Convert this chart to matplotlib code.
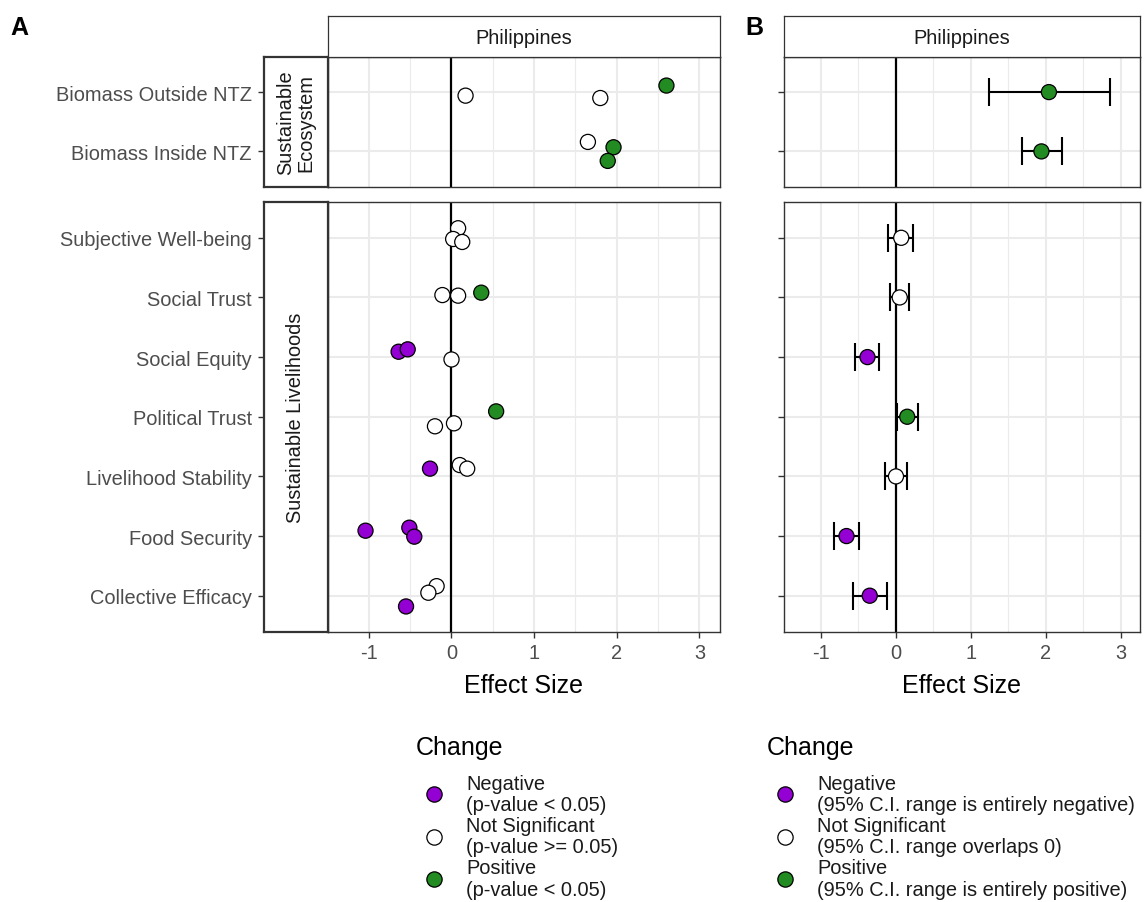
import matplotlib
matplotlib.use("Agg")
import matplotlib.pyplot as plt
from matplotlib.lines import Line2D

plt.rcParams['font.family'] = ['Liberation Sans', 'DejaVu Sans']

# ---------------- data ----------------
eco_indicators = ["Biomass Outside NTZ", "Biomass Inside NTZ"]
liv_indicators = ["Subjective Well-being", "Social Trust", "Social Equity",
                  "Political Trust", "Livelihood Stability", "Food Security",
                  "Collective Efficacy"]
group_labels = ["Sustainable\nEcosystem", "Sustainable Livelihoods"]

# Panel A: individual effect sizes (three per indicator)
a_indicator = (["Biomass Outside NTZ"] * 3 + ["Biomass Inside NTZ"] * 3 +
               ["Subjective Well-being"] * 3 + ["Social Trust"] * 3 +
               ["Social Equity"] * 3 + ["Political Trust"] * 3 +
               ["Livelihood Stability"] * 3 + ["Food Security"] * 3 +
               ["Collective Efficacy"] * 3)
a_effect = [0.17, 1.80, 2.60,
            1.65, 1.96, 1.89,
            0.08, 0.02, 0.13,
            -0.11, 0.08, 0.36,
            -0.64, -0.53, 0.00,
            0.54, -0.20, 0.03,
            -0.26, 0.10, 0.19,
            -1.04, -0.51, -0.45,
            -0.18, -0.28, -0.55]
a_jitter = [0.06, 0.10, -0.11,
            -0.16, -0.07, 0.16,
            -0.16, 0.02, 0.07,
            -0.04, -0.03, -0.08,
            -0.09, -0.13, 0.04,
            -0.09, 0.16, 0.11,
            -0.13, -0.19, -0.13,
            -0.09, -0.14, 0.01,
            -0.16, -0.05, 0.18]
a_change = ["Not Significant", "Not Significant", "Positive",
            "Not Significant", "Positive", "Positive",
            "Not Significant", "Not Significant", "Not Significant",
            "Not Significant", "Not Significant", "Positive",
            "Negative", "Negative", "Not Significant",
            "Positive", "Not Significant", "Not Significant",
            "Negative", "Not Significant", "Not Significant",
            "Negative", "Negative", "Negative",
            "Not Significant", "Not Significant", "Negative"]

# Panel B: mean effect with 95% CI
b_indicator = eco_indicators + liv_indicators
b_mean = [2.04, 1.94, 0.07, 0.05, -0.38, 0.15, 0.00, -0.66, -0.35]
b_lo = [1.24, 1.68, -0.10, -0.08, -0.54, 0.01, -0.14, -0.83, -0.57]
b_hi = [2.85, 2.21, 0.23, 0.18, -0.22, 0.29, 0.15, -0.49, -0.12]
b_change = ["Positive", "Positive", "Not Significant", "Not Significant",
            "Negative", "Positive", "Not Significant", "Negative", "Negative"]

change_levels = ["Negative", "Not Significant", "Positive"]
legend_a_labels = ["Negative\n(p-value < 0.05)",
                   "Not Significant\n(p-value >= 0.05)",
                   "Positive\n(p-value < 0.05)"]
legend_b_labels = ["Negative\n(95% C.I. range is entirely negative)",
                   "Not Significant\n(95% C.I. range overlaps 0)",
                   "Positive\n(95% C.I. range is entirely positive)"]
x_major = [-1, 0, 1, 2, 3]
x_minor = [-1.5, -0.5, 0.5, 1.5, 2.5]

# ---------------- style ----------------
colors = {"Negative": "#9400D3", "Not Significant": "#FFFFFF", "Positive": "#228B22"}
XLIM = (-1.455, 3.248)
SMALL = 14.4
LARGE = 18
TXT_GREY = "#4D4D4D"
DARK = "#1A1A1A"
PT_S = 118
W, H = 1145, 903

fig = plt.figure(figsize=(W / 100, H / 100), dpi=100)


def px(x0, y0, x1, y1):
    return [x0 / W, 1 - y1 / H, (x1 - x0) / W, (y1 - y0) / H]


def style_panel(ax, cats, bottom, ytick_len):
    ax.set_xlim(XLIM)
    ax.set_ylim(len(cats) - 1 + 0.6, -0.6)
    ax.set_xticks(x_major)
    ax.set_xticks(x_minor, minor=True)
    ax.set_yticks(range(len(cats)))
    ax.set_yticklabels([])
    ax.grid(which='major', color='#EBEBEB', lw=1.5)
    ax.grid(which='minor', axis='x', color='#EBEBEB', lw=0.8)
    ax.set_axisbelow(True)
    for s in ax.spines.values():
        s.set_color('#333333')
        s.set_linewidth(1.0)
    ax.axvline(0, color='black', lw=1.6, zorder=1.5)
    ax.tick_params(axis='y', length=ytick_len, width=1.0, color='#333333')
    ax.tick_params(axis='x', which='minor', length=0)
    if bottom:
        ax.set_xticklabels([str(v) for v in x_major])
        ax.tick_params(axis='x', which='major', length=4.3, width=1.0,
                       color='#333333', labelsize=SMALL, labelcolor=TXT_GREY, pad=4)
        ax.set_xlabel("Effect Size", fontsize=LARGE, color='black', labelpad=8)
    else:
        ax.tick_params(axis='x', which='major', length=0, labelbottom=False)


def top_strip(rect):
    s = fig.add_axes(px(*rect))
    s.set_xticks([]); s.set_yticks([])
    for sp in s.spines.values():
        sp.set_color('#333333'); sp.set_linewidth(0.9)
    s.text(0.5, 0.47, "Philippines", ha='center', va='center',
           fontsize=SMALL, color=DARK, transform=s.transAxes)


rows_y = [(57.5, 188), (203, 632.5)]
cat_sets = [eco_indicators, liv_indicators]

# ---------------- Panel A ----------------
for (y0, y1), cats, glabel, bottom in zip(rows_y, cat_sets, group_labels, [False, True]):
    ax = fig.add_axes(px(327.5, y0, 720, y1))
    style_panel(ax, cats, bottom, 0)
    xs, ys, cs = [], [], []
    for ind, e, j, ch in zip(a_indicator, a_effect, a_jitter, a_change):
        if ind in cats:
            xs.append(e)
            ys.append(cats.index(ind) + j)
            cs.append(colors[ch])
    ax.scatter(xs, ys, s=PT_S, c=cs, edgecolors='black', linewidths=0.9, zorder=3)

    st = fig.add_axes(px(263.5, y0, 327.5, y1))
    st.set_xlim(0, 1)
    st.set_ylim(len(cats) - 1 + 0.6, -0.6)
    st.set_xticks([])
    st.set_yticks(range(len(cats)))
    st.set_yticklabels(cats)
    st.tick_params(axis='y', length=4.5, width=1.0, color='#333333',
                   labelsize=SMALL, labelcolor=TXT_GREY, pad=4)
    for sp in st.spines.values():
        sp.set_color('#333333'); sp.set_linewidth(1.6)
    st.text(0.5, 0.5, glabel, rotation=90, ha='center', va='center',
            fontsize=SMALL, color=DARK, transform=st.transAxes, linespacing=1.1)

top_strip((327.5, 17, 720, 57.5))

# ---------------- Panel B ----------------
for (y0, y1), cats, bottom in zip(rows_y, cat_sets, [False, True]):
    ax = fig.add_axes(px(783.5, y0, 1139.5, y1))
    style_panel(ax, cats, bottom, 4.5)
    xs, ys, cs, lo, hi = [], [], [], [], []
    for ind, m, l, h, ch in zip(b_indicator, b_mean, b_lo, b_hi, b_change):
        if ind in cats:
            xs.append(m); ys.append(cats.index(ind)); cs.append(colors[ch])
            lo.append(m - l); hi.append(h - m)
    ax.errorbar(xs, ys, xerr=[lo, hi], fmt='none', ecolor='black',
                elinewidth=1.5, capsize=10.4, capthick=1.5, zorder=2)
    ax.scatter(xs, ys, s=PT_S, c=cs, edgecolors='black', linewidths=0.9, zorder=3)

top_strip((783.5, 17, 1139.5, 57.5))

# ---------------- panel tags ----------------
fig.text(10 / W, 1 - 28 / H, "A", fontsize=LARGE, weight='bold', va='center', ha='left')
fig.text(745 / W, 1 - 28 / H, "B", fontsize=LARGE, weight='bold', va='center', ha='left')

# ---------------- legends ----------------
def make_legend(labels, x, y_title, y_items):
    fig.text(x / W, 1 - y_title / H, "Change", fontsize=LARGE, color='black',
             ha='left', va='center')
    handles = [Line2D([], [], ls='', marker='o', markersize=11,
                      markerfacecolor=colors[c], markeredgecolor='black',
                      markeredgewidth=0.9) for c in change_levels]
    leg = fig.legend(handles, labels, loc='upper left',
                     bbox_to_anchor=(x / W, 1 - y_items / H), frameon=False,
                     fontsize=SMALL, handlelength=1.8, handletextpad=0.7,
                     labelspacing=0.12, borderpad=0, borderaxespad=0)
    for t in leg.get_texts():
        t.set_linespacing(1.14)
        t.set_color(DARK)
    return leg

make_legend(legend_a_labels, 416, 748, 774.5)
make_legend(legend_b_labels, 767, 748, 774.5)

fig.savefig("out.png", dpi=100)
